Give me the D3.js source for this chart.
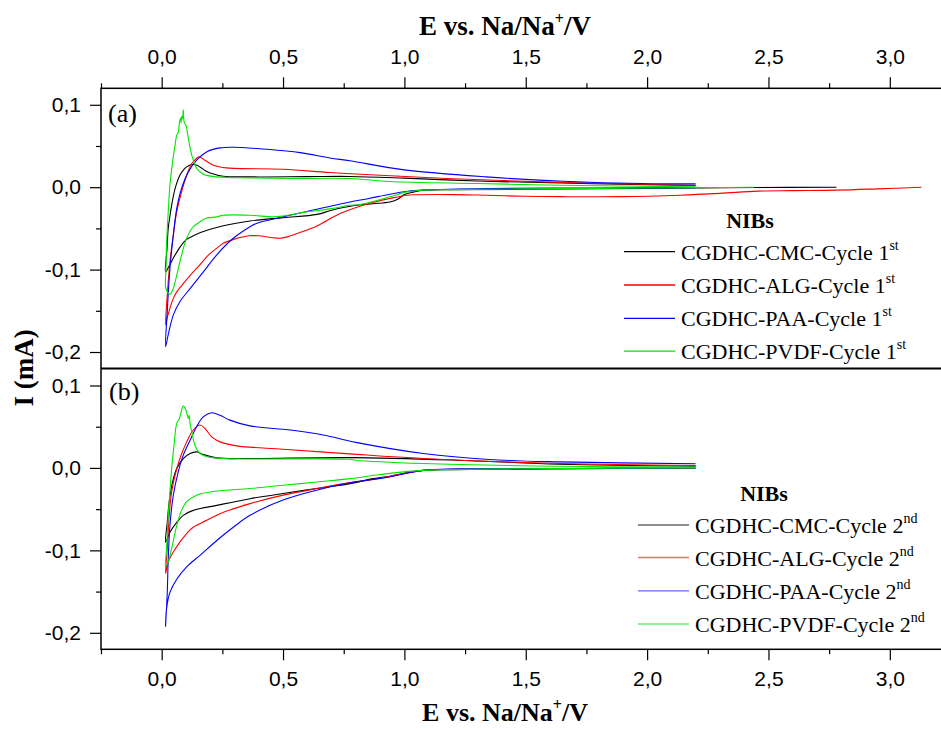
<!DOCTYPE html>
<html>
<head>
<meta charset="utf-8">
<script src="https://cdn.jsdelivr.net/npm/d3@7"></script>
<style>
  html, body { margin: 0; padding: 0; background: #fff; overflow: hidden; }
  svg { display: block; }
</style>
</head>
<body>
<svg id="chart" width="941" height="729"></svg>
<script>
// Axis ticks
const E_TICKS = [0, 0.5, 1.0, 1.5, 2.0, 2.5, 3.0];
const E_MINOR = [-0.25, 0.25, 0.75, 1.25, 1.75, 2.25, 2.75];
const I_TICKS = [0.1, 0.0, -0.1, -0.2];
const I_MINOR = [0.05, -0.05, -0.15];

// Binders, colours, legend text
const BINDERS = ["CMC", "ALG", "PAA", "PVDF"];
const COLORS = ["#000000", "#ff0000", "#0000ff", "#00e600"];
const CYCLE_SUP = ["st", "nd"];
const CYCLE_NUM = ["1", "2"];

// Cyclic voltammograms, points in sweep order [E (V), I (mA)]
// Cycle 1: cathodic sweep from open-circuit potential down to 0.016 V, then anodic up to 2.2 V
const cmcCycle1 = [
  [2.78, 0.000], [2.45, -0.0004], [2.0, -0.0015], [1.5, -0.0025], [1.2, -0.003], [1.08, -0.0036],
  [1.04, -0.0057], [1.0, -0.009], [0.97, -0.015], [0.94, -0.018], [0.87, -0.020], [0.80, -0.022],
  [0.70, -0.028], [0.64, -0.033], [0.50, -0.037], [0.364, -0.041], [0.25, -0.047], [0.16, -0.055],
  [0.117, -0.061], [0.10, -0.064], [0.075, -0.073], [0.048, -0.086], [0.03, -0.096], [0.016, -0.103],
  [0.022, -0.075], [0.027, -0.050], [0.034, -0.035], [0.041, -0.022], [0.055, -0.002], [0.075, 0.0145],
  [0.09, 0.021], [0.103, 0.0246], [0.118, 0.027], [0.13, 0.0275], [0.145, 0.0265], [0.158, 0.0246],
  [0.18, 0.020], [0.20, 0.0173], [0.254, 0.0133], [0.364, 0.0125], [0.6, 0.0128], [0.776, 0.013],
  [1.0, 0.011], [1.3, 0.0075], [1.6, 0.0055], [2.0, 0.003], [2.2, 0.002]
];
const algCycle1 = [
  [3.13, 0.000], [2.95, -0.002], [2.78, -0.0036], [2.6, -0.0042], [2.457, -0.0048], [2.3, -0.0075],
  [2.136, -0.0097], [1.9, -0.0115], [1.65, -0.0115], [1.495, -0.011], [1.3, -0.0095], [1.2, -0.009],
  [1.05, -0.0092], [1.01, -0.0097], [0.94, -0.0137], [0.85, -0.020], [0.735, -0.032], [0.64, -0.047],
  [0.57, -0.055], [0.52, -0.060], [0.487, -0.062], [0.45, -0.061], [0.40, -0.059], [0.36, -0.059],
  [0.30, -0.063], [0.254, -0.068], [0.227, -0.074], [0.19, -0.083], [0.158, -0.094], [0.12, -0.106],
  [0.089, -0.117], [0.062, -0.127], [0.045, -0.137], [0.034, -0.147], [0.024, -0.157], [0.016, -0.167],
  [0.023, -0.131], [0.034, -0.0905], [0.048, -0.058], [0.062, -0.030], [0.082, -0.0057], [0.103, 0.0145],
  [0.124, 0.0287], [0.14, 0.034], [0.151, 0.0367], [0.165, 0.0355], [0.178, 0.0327], [0.213, 0.0267],
  [0.268, 0.0234], [0.5, 0.0218], [0.693, 0.0178], [0.9, 0.0145], [1.174, 0.0105], [1.656, 0.0057],
  [2.2, 0.0024]
];
const paaCycle1 = [
  [2.2, -0.0005], [1.8, -0.001], [1.335, -0.0016], [1.078, -0.0036], [1.014, -0.005], [0.94, -0.0085],
  [0.854, -0.0137], [0.776, -0.018], [0.666, -0.025], [0.529, -0.034], [0.50, -0.036], [0.39, -0.044],
  [0.364, -0.048], [0.295, -0.062], [0.227, -0.082], [0.171, -0.103], [0.117, -0.123], [0.075, -0.139],
  [0.048, -0.155], [0.027, -0.179], [0.016, -0.1935],
  [0.023, -0.151], [0.034, -0.0986], [0.048, -0.058], [0.062, -0.026], [0.082, -0.0016], [0.110, 0.0186],
  [0.144, 0.0327], [0.185, 0.0428], [0.240, 0.0477], [0.295, 0.0485], [0.433, 0.046], [0.57, 0.042],
  [0.693, 0.0355], [0.776, 0.032], [1.0, 0.021], [1.335, 0.0125], [1.656, 0.0073], [1.976, 0.0044],
  [2.2, 0.004]
];
const pvdfCycle1 = [
  [2.44, 0.000], [2.0, -0.001], [1.5, -0.002], [1.2, -0.003], [1.078, -0.0036], [1.01, -0.0057],
  [0.94, -0.0117], [0.82, -0.021], [0.776, -0.022], [0.70, -0.026], [0.597, -0.030], [0.50, -0.035],
  [0.46, -0.036], [0.364, -0.034], [0.254, -0.034], [0.227, -0.036], [0.18, -0.038], [0.158, -0.042],
  [0.130, -0.048], [0.103, -0.062], [0.082, -0.082], [0.062, -0.107], [0.045, -0.125], [0.034, -0.130],
  [0.023, -0.127], [0.016, -0.121],
  [0.018, -0.099], [0.020, -0.070], [0.027, -0.030], [0.034, 0.0024], [0.045, 0.031], [0.055, 0.051],
  [0.062, 0.063], [0.068, 0.066], [0.072, 0.076], [0.075, 0.081], [0.078, 0.084], [0.080, 0.078],
  [0.083, 0.086], [0.086, 0.083], [0.089, 0.094], [0.092, 0.080], [0.096, 0.077], [0.100, 0.075],
  [0.110, 0.059], [0.124, 0.039], [0.144, 0.023], [0.171, 0.0157], [0.227, 0.0125], [0.364, 0.0113],
  [0.53, 0.0105], [0.776, 0.0105], [0.94, 0.007], [1.3, 0.0045], [1.64, 0.0024], [2.2, 0.0004]
];

// Cycle 2: 2.2 V down to 0.016 V and back up to 2.2 V
const cmcCycle2 = [
  [2.2, 0.000], [1.6, -0.001], [1.2, -0.002], [1.078, -0.003], [0.94, -0.010], [0.872, -0.013],
  [0.776, -0.019], [0.638, -0.025], [0.50, -0.031], [0.364, -0.0373], [0.227, -0.0454], [0.130, -0.0515],
  [0.089, -0.0575], [0.062, -0.066], [0.034, -0.078], [0.016, -0.090],
  [0.023, -0.066], [0.031, -0.041], [0.045, -0.017], [0.062, -0.0008], [0.089, 0.0114], [0.117, 0.0175],
  [0.144, 0.0195], [0.171, 0.0163], [0.227, 0.0122], [0.364, 0.0114], [0.776, 0.0125], [1.215, 0.0094],
  [1.64, 0.0045], [2.2, 0.002]
];
const algCycle2 = [
  [2.2, 0.000], [1.6, -0.001], [1.078, -0.003], [0.94, -0.010], [0.872, -0.014], [0.776, -0.0178],
  [0.638, -0.025], [0.50, -0.033], [0.364, -0.0433], [0.240, -0.0555], [0.185, -0.0636], [0.130, -0.072],
  [0.096, -0.082], [0.075, -0.090], [0.048, -0.102], [0.027, -0.114], [0.016, -0.128],
  [0.023, -0.098], [0.031, -0.0575], [0.041, -0.029], [0.055, -0.009], [0.075, 0.0114], [0.103, 0.0316],
  [0.130, 0.046], [0.158, 0.052], [0.178, 0.048], [0.206, 0.0377], [0.240, 0.0316], [0.309, 0.0268],
  [0.50, 0.0227], [0.776, 0.017], [1.078, 0.0114], [1.64, 0.0053], [2.2, 0.003]
];
const paaCycle2 = [
  [2.2, 0.000], [1.6, -0.001], [1.078, -0.003], [0.94, -0.011], [0.776, -0.018], [0.638, -0.027],
  [0.50, -0.039], [0.364, -0.0575], [0.295, -0.072], [0.227, -0.088], [0.158, -0.106], [0.103, -0.120],
  [0.062, -0.135], [0.034, -0.151], [0.020, -0.171], [0.016, -0.192],
  [0.023, -0.151], [0.027, -0.110], [0.034, -0.070], [0.048, -0.033], [0.068, -0.005], [0.089, 0.0155],
  [0.117, 0.0337], [0.144, 0.050], [0.171, 0.062], [0.206, 0.067], [0.240, 0.064], [0.281, 0.058],
  [0.364, 0.051], [0.53, 0.046], [0.666, 0.040], [0.80, 0.031], [1.078, 0.0175], [1.35, 0.0102],
  [1.64, 0.0073], [2.2, 0.005]
];
const pvdfCycle2 = [
  [2.2, 0.000], [1.6, -0.0008], [1.078, -0.003], [0.90, -0.008], [0.776, -0.013], [0.64, -0.017],
  [0.50, -0.021], [0.364, -0.025], [0.227, -0.028], [0.144, -0.033], [0.103, -0.041], [0.082, -0.0515],
  [0.062, -0.070], [0.041, -0.098], [0.027, -0.114], [0.016, -0.120],
  [0.020, -0.098], [0.027, -0.0575], [0.034, -0.029], [0.041, -0.0008], [0.051, 0.0276], [0.062, 0.054],
  [0.073, 0.060], [0.082, 0.070], [0.089, 0.0755], [0.095, 0.073], [0.100, 0.070], [0.110, 0.060],
  [0.113, 0.064], [0.118, 0.052], [0.124, 0.044], [0.137, 0.0276], [0.158, 0.0175], [0.192, 0.0134],
  [0.254, 0.0114], [0.776, 0.0105], [0.80, 0.0094], [1.078, 0.0053], [1.64, 0.002], [2.2, 0.001]
];

const CYCLE1 = [cmcCycle1, algCycle1, paaCycle1, pvdfCycle1];
const CYCLE2 = [cmcCycle2, algCycle2, paaCycle2, pvdfCycle2];

// ---- drawing ----
const svg = d3.select("#chart");
const W = 941, H = 729;
const left = 101, right = 950.5;
const topA = 88.3, mid = 368.5, bottomB = 649.3;

const x = d3.scaleLinear().domain([-0.25, 3.25]).range([left, right]);
const yA = d3.scaleLinear().domain([-0.22, 0.12]).range([mid, topA]);
const yB = d3.scaleLinear().domain([-0.22, 0.12]).range([bottomB, mid + 0.5]);

const loc = d3.formatLocale({ decimal: ",", thousands: ".", grouping: [3], currency: ["", ""], minus: "-" });
const fmt = loc.format(".1f");

const SANS = "Arial, 'Liberation Sans', Helvetica, sans-serif";
const SERIF = "'Times New Roman', 'Liberation Serif', Times, serif";
const TICK_FONT = 21;

svg.append("rect").attr("width", W).attr("height", H).attr("fill", "#fff");

const defs = svg.append("defs");
defs.append("clipPath").attr("id", "clipA").append("rect")
  .attr("x", left).attr("y", topA).attr("width", right - left).attr("height", mid - topA);
defs.append("clipPath").attr("id", "clipB").append("rect")
  .attr("x", left).attr("y", mid).attr("width", right - left).attr("height", bottomB - mid);

function styleAxis(g) {
  g.select(".domain").remove();
  g.selectAll(".tick line").attr("stroke", "#000").attr("stroke-width", 1.2);
  g.selectAll(".tick text").attr("font-family", SANS).attr("font-size", TICK_FONT).attr("fill", "#000");
}

// top axis
svg.append("g").attr("transform", `translate(0,${topA})`)
  .call(d3.axisTop(x).tickValues(E_TICKS).tickSize(11).tickPadding(13).tickFormat(fmt))
  .call(styleAxis);
svg.append("g").attr("transform", `translate(0,${topA})`)
  .call(d3.axisTop(x).tickValues(E_MINOR).tickSize(5).tickFormat(""))
  .call(styleAxis);

// bottom axis
svg.append("g").attr("transform", `translate(0,${bottomB})`)
  .call(d3.axisBottom(x).tickValues(E_TICKS).tickSize(11).tickPadding(11).tickFormat(fmt))
  .call(styleAxis);
svg.append("g").attr("transform", `translate(0,${bottomB})`)
  .call(d3.axisBottom(x).tickValues(E_MINOR).tickSize(5).tickFormat(""))
  .call(styleAxis);

// left axes for both panels
[yA, yB].forEach(y => {
  svg.append("g").attr("transform", `translate(${left},0)`)
    .call(d3.axisLeft(y).tickValues(I_TICKS).tickSize(11).tickPadding(9).tickFormat(fmt))
    .call(styleAxis);
  svg.append("g").attr("transform", `translate(${left},0)`)
    .call(d3.axisLeft(y).tickValues(I_MINOR).tickSize(5).tickFormat(""))
    .call(styleAxis);
});

// curves
const panels = [
  { y: yA, clip: "clipA", data: CYCLE1 },
  { y: yB, clip: "clipB", data: CYCLE2 }
];
panels.forEach(p => {
  const gen = d3.line().x(d => x(d[0])).y(d => p.y(d[1])).curve(d3.curveCatmullRom.alpha(0.5));
  const g = svg.append("g").attr("clip-path", `url(#${p.clip})`);
  p.data.forEach((series, i) => {
    g.append("path").attr("d", gen(series)).attr("fill", "none")
      .attr("stroke", COLORS[i]).attr("stroke-width", 1.1).attr("stroke-linejoin", "round");
  });
});

// frames
svg.append("rect").attr("x", left).attr("y", topA).attr("width", right - left).attr("height", bottomB - topA)
  .attr("fill", "none").attr("stroke", "#000").attr("stroke-width", 1.5);
svg.append("line").attr("x1", left).attr("x2", right).attr("y1", mid).attr("y2", mid)
  .attr("stroke", "#000").attr("stroke-width", 2);

// axis titles
function eTitle(yBase, size) {
  const t = svg.append("text").attr("x", 505).attr("y", yBase).attr("text-anchor", "middle")
    .attr("font-family", SERIF).attr("font-weight", "bold").attr("font-size", size).attr("fill", "#000");
  t.append("tspan").text("E vs. Na/Na");
  t.append("tspan").attr("font-size", 16).attr("dy", -11).text("+");
  t.append("tspan").attr("dy", 11).text("/V");
}
eTitle(35, 27);
eTitle(721, 26);

svg.append("text").attr("transform", "translate(33,368) rotate(-90)").attr("text-anchor", "middle")
  .attr("font-family", SERIF).attr("font-weight", "bold").attr("font-size", 27).attr("fill", "#000")
  .text("I (mA)");

// panel labels
svg.append("text").attr("x", 108).attr("y", 122).attr("font-family", SERIF).attr("font-size", 26).text("(a)");
svg.append("text").attr("x", 109).attr("y", 400).attr("font-family", SERIF).attr("font-size", 26).text("(b)");

// legends
function legend(cfg) {
  const g = svg.append("g");
  g.append("text").attr("x", cfg.titleX).attr("y", cfg.titleY).attr("text-anchor", "middle")
    .attr("font-family", SERIF).attr("font-weight", "bold").attr("font-size", 22).text("NIBs");
  BINDERS.forEach((b, i) => {
    const yy = cfg.rowY[i];
    g.append("line").attr("x1", cfg.x1).attr("x2", cfg.x2).attr("y1", yy).attr("y2", yy)
      .attr("stroke", COLORS[i]).attr("stroke-width", 1.3).attr("stroke-opacity", cfg.opacity);
    const t = g.append("text").attr("x", cfg.x2 + 6).attr("y", yy + 8)
      .attr("font-family", SERIF).attr("font-size", 22).attr("fill", "#000");
    t.append("tspan").text(`CGDHC-${b}-Cycle ${CYCLE_NUM[cfg.cycle]}`);
    t.append("tspan").attr("font-size", 14).attr("dy", -10).text(CYCLE_SUP[cfg.cycle]);
  });
}
legend({ cycle: 0, titleX: 750, titleY: 228, x1: 624, x2: 675, rowY: [251.7, 285, 318.3, 351.2], opacity: 1 });
legend({ cycle: 1, titleX: 764, titleY: 501, x1: 638, x2: 689, rowY: [525, 557.5, 590.8, 624], opacity: 0.6 });
</script>
</body>
</html>
